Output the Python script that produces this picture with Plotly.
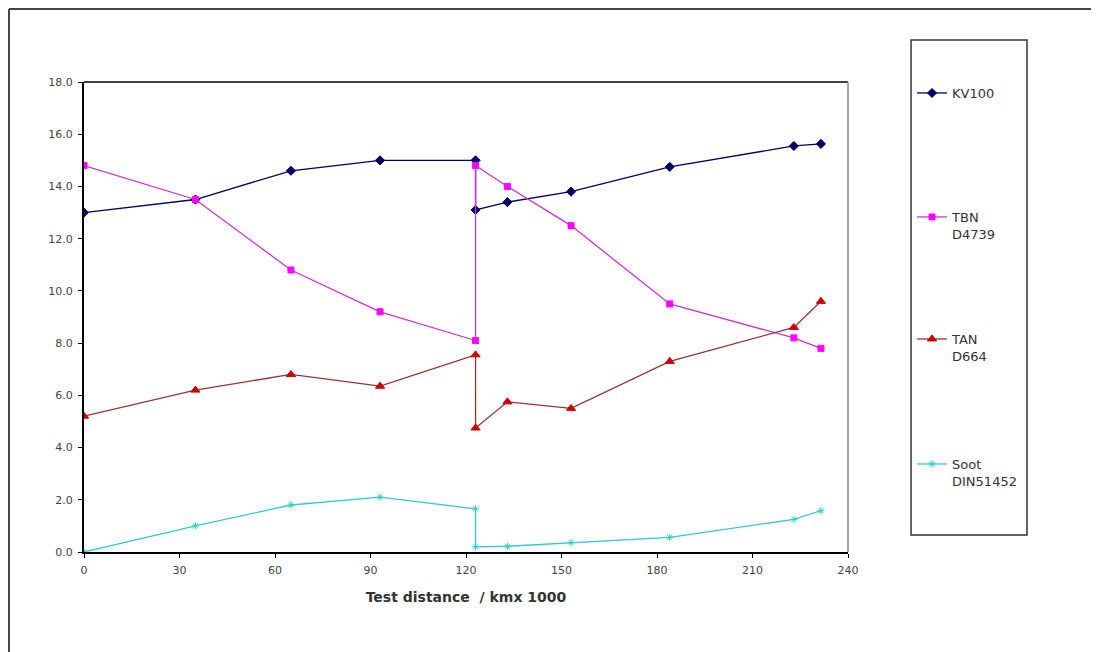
import plotly.graph_objects as go

# Data
dist = [0, 35, 65, 93, 123, 123, 133, 153, 184, 223, 231.5]
kv100 = [13.0, 13.5, 14.6, 15.0, 15.0, 13.1, 13.4, 13.8, 14.75, 15.55, 15.63]
tbn = [14.8, 13.5, 10.8, 9.2, 8.1, 14.8, 14.0, 12.5, 9.5, 8.2, 7.8]
tan = [5.2, 6.2, 6.8, 6.35, 7.55, 4.75, 5.75, 5.5, 7.3, 8.6, 9.6]
soot = [0.0, 1.0, 1.8, 2.1, 1.65, 0.2, 0.22, 0.36, 0.56, 1.25, 1.58]

x_ticks = [0, 30, 60, 90, 120, 150, 180, 210, 240]
y_ticks = [0, 2, 4, 6, 8, 10, 12, 14, 16, 18]

series = [
    ("KV100", kv100, "#000066", "#000066", "diamond", 7, "legend", 1.0085),
    ("TBN<br>D4739", tbn, "#CC33CC", "#FF00FF", "square", 6, "legend2", 0.7447),
    ("TAN<br>D664", tan, "#993333", "#CC0000", "triangle-up", 8, "legend3", 0.4851),
    ("Soot<br>DIN51452", soot, "#33CCCC", "#33CCCC", "asterisk-open", 6, "legend4", 0.2191),
]

fig = go.Figure()
for name, vals, lc, mc, sym, ms, lg, ly in series:
    fig.add_trace(go.Scatter(
        x=dist, y=vals, mode="lines+markers", name=name,
        line=dict(color=lc, width=1.3),
        marker=dict(symbol=sym, size=ms, color=mc, line=dict(color=mc, width=1)),
        legend=lg,
    ))

FONT = "DejaVu Sans"
leg_common = dict(
    x=1.0838, xanchor="left", yanchor="top", bgcolor="rgba(0,0,0,0)",
    font=dict(family=FONT, size=13, color="#333333"),
    itemwidth=30, valign="top", borderwidth=0,
)
legends = {}
for name, vals, lc, mc, sym, ms, lg, ly in series:
    legends[lg] = dict(leg_common, y=ly)

fig.update_layout(
    width=1099, height=652,
    margin=dict(l=76, r=259, t=74, b=108),
    paper_bgcolor="white", plot_bgcolor="white",
    showlegend=True,
    font=dict(family=FONT, color="#333333"),
    xaxis=dict(
        range=[0, 240], tickvals=x_ticks, showgrid=False, zeroline=False,
        showline=True, linecolor="black", linewidth=2,
        ticks="outside", ticklen=4, tickcolor="black", tickwidth=1,
        ticklabelstandoff=3,
        tickfont=dict(family=FONT, size=11, color="#444444"),
        title=dict(text="<b>Test distance  / kmx 1000</b>", standoff=16,
                   font=dict(family=FONT, size=14, color="#333333")),
    ),
    yaxis=dict(
        range=[0, 18], tickvals=y_ticks, tickformat=".1f", showgrid=False,
        zeroline=False, showline=True, linecolor="black", linewidth=2,
        ticks="outside", ticklen=4, tickcolor="black", tickwidth=1,
        ticklabelstandoff=3,
        tickfont=dict(family=FONT, size=11, color="#444444"),
    ),
    **legends,
)

shapes = [
    # plot area top and right borders
    dict(type="line", xref="paper", yref="paper", x0=0, x1=1, y0=1, y1=1,
         line=dict(color="black", width=1.5)),
    dict(type="line", xref="paper", yref="paper", x0=1, x1=1, y0=0, y1=1,
         line=dict(color="#888888", width=1.5)),
    # legend box
    dict(type="rect", xref="paper", yref="paper", x0=1.0825, x1=1.2343,
         y0=0.0362, y1=1.0894, line=dict(color="#333333", width=1.5)),
    # outer frame (top and left)
    dict(type="line", xref="paper", yref="paper", x0=-0.0982, x1=1.34,
         y0=1.1553, y1=1.1553, line=dict(color="#444444", width=2)),
    dict(type="line", xref="paper", yref="paper", x0=-0.0982, x1=-0.0982,
         y0=1.1553, y1=-0.24, line=dict(color="#444444", width=2)),
]
fig.update_layout(shapes=shapes)

fig.write_html("out.html")
